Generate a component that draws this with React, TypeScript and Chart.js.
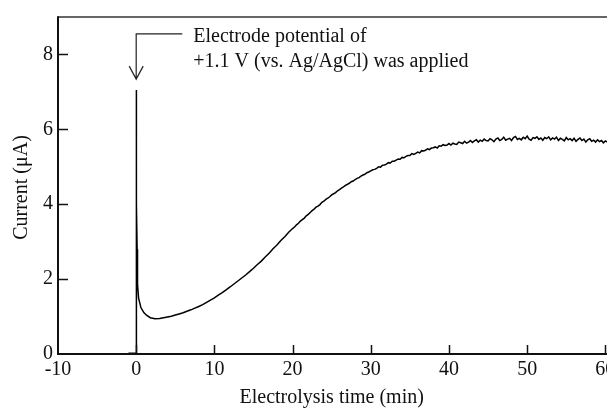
import { useEffect, useRef } from "react";
import { Chart, registerables } from "chart.js";

Chart.register(...registerables);

// Initial spike and decay (min, µA)
const spikeTimes = [-1.0, -0.02, 0, 0, 0.08, 0.12, 0.17, 0.3, 0.6, 1.0, 1.36, 1.8, 2.4];
const spikeCurrent = [0.02, 0.02, 0, 7.05, 4.0, 2.8, 1.87, 1.5, 1.24, 1.1, 1.03, 0.97, 0.94];

// Rise, sampled every 0.5 min from 3 min
const riseStart = 3;
const riseStep = 0.5;
const riseCurrent = [
  0.95, 0.97, 0.99, 1.01, 1.04, 1.07, 1.1, 1.14, 1.18, 1.225, 1.27, 1.32, 1.38, 1.44,
  1.5, 1.57, 1.64, 1.715, 1.79, 1.87, 1.95, 2.03, 2.11, 2.2, 2.29, 2.39, 2.48, 2.59,
  2.69, 2.81, 2.91, 3.03, 3.13, 3.25,
];

// Upper part and plateau, sampled every 0.25 min from 20 min
const plateauStart = 20;
const plateauStep = 0.25;
const plateauCurrent = [
  3.35, 3.39, 3.45, 3.49, 3.55, 3.59, 3.63, 3.69, 3.73, 3.78, 3.83, 3.87, 3.92, 3.95, 3.99, 4.05,
  4.08, 4.13, 4.16, 4.2, 4.25, 4.28, 4.31, 4.36, 4.39, 4.43, 4.46, 4.5, 4.53, 4.56, 4.6, 4.62,
  4.66, 4.69, 4.71, 4.75, 4.78, 4.8, 4.84, 4.86,
  4.89, 4.92, 4.93, 4.96, 5.0, 4.99, 5.04, 5.05, 5.07, 5.11, 5.1, 5.15, 5.15, 5.18, 5.21, 5.2,
  5.25, 5.24, 5.28, 5.3, 5.3, 5.35, 5.33, 5.36, 5.39, 5.37, 5.43, 5.42, 5.44, 5.48, 5.46, 5.5,
  5.51, 5.53, 5.5, 5.56, 5.55, 5.59, 5.57, 5.58, 5.62, 5.58, 5.63, 5.61, 5.6, 5.66, 5.64, 5.62,
  5.68, 5.63, 5.66, 5.7, 5.65, 5.69, 5.72, 5.66, 5.71, 5.68, 5.74, 5.7, 5.69, 5.75, 5.72, 5.67,
  5.74, 5.77, 5.7, 5.73, 5.79, 5.71, 5.74, 5.76, 5.7, 5.78, 5.81, 5.73, 5.76, 5.72, 5.79, 5.75,
  5.82, 5.74, 5.71, 5.78, 5.76, 5.8, 5.73, 5.77, 5.71, 5.78, 5.75, 5.8, 5.72, 5.77, 5.74, 5.79,
  5.7, 5.76, 5.73, 5.69, 5.78, 5.72, 5.75, 5.7, 5.76, 5.68, 5.73, 5.77, 5.7, 5.74, 5.66, 5.72,
  5.75, 5.68, 5.71, 5.66, 5.72, 5.67, 5.7, 5.64, 5.69, 5.66, 5.71, 5.63, 5.67, 5.62, 5.68, 5.64,
  5.62,
];

const xTicks = [-10, 0, 10, 20, 30, 40, 50, 60];
const yTicks = [0, 2, 4, 6, 8];
const xTitle = "Electrolysis time (min)";
const yTitle = "Current (\u03bcA)";
const noteLines = ["Electrode potential of", "+1.1 V (vs. Ag/AgCl) was applied"];

const FONT = "'Liberation Serif', 'Times New Roman', serif";
const INK = "#111";

function buildPoints() {
  const pts: { x: number; y: number }[] = [];
  spikeTimes.forEach((t, i) => pts.push({ x: t, y: spikeCurrent[i] }));
  riseCurrent.forEach((v, i) => pts.push({ x: riseStart + i * riseStep, y: v }));
  plateauCurrent.forEach((v, i) => pts.push({ x: plateauStart + i * plateauStep, y: v }));
  return pts;
}

const framePlugin = {
  id: "frame",
  afterDraw(chart: any) {
    const { ctx, chartArea } = chart;
    const { left, right, top, bottom } = chartArea;
    const xs = chart.scales.x;
    const ys = chart.scales.y;
    ctx.save();
    ctx.lineCap = "butt";
    // top border
    ctx.lineWidth = 1.5;
    ctx.strokeStyle = "#333";
    ctx.beginPath();
    ctx.moveTo(left, top);
    ctx.lineTo(right, top);
    ctx.stroke();
    // axes
    ctx.strokeStyle = INK;
    ctx.lineWidth = 2;
    ctx.beginPath();
    ctx.moveTo(left, top - 0.75);
    ctx.lineTo(left, bottom);
    ctx.lineTo(right, bottom);
    ctx.stroke();
    // inward ticks
    ctx.lineWidth = 1.5;
    ctx.beginPath();
    xTicks.forEach((v) => {
      const px = Math.round(xs.getPixelForValue(v)) + 0.5;
      if (Math.abs(px - left) < 2) return;
      ctx.moveTo(px, bottom);
      ctx.lineTo(px, bottom - 9);
    });
    yTicks.forEach((v) => {
      const py = Math.round(ys.getPixelForValue(v)) + 0.5;
      if (Math.abs(py - bottom) < 2) return;
      ctx.moveTo(left, py);
      ctx.lineTo(left + 10, py);
    });
    ctx.stroke();

    // annotation arrow
    const ax = xs.getPixelForValue(0);
    const lineY = ys.getPixelForValue(8.55);
    const tipY = ys.getPixelForValue(7.34);
    const hx = xs.getPixelForValue(5.9);
    ctx.lineWidth = 1.2;
    ctx.strokeStyle = "#222";
    ctx.beginPath();
    ctx.moveTo(hx, lineY);
    ctx.lineTo(ax, lineY);
    ctx.lineTo(ax, tipY);
    ctx.moveTo(ax - 7, tipY - 13);
    ctx.lineTo(ax, tipY);
    ctx.lineTo(ax + 7, tipY - 13);
    ctx.stroke();

    ctx.fillStyle = "#111";
    ctx.font = `20px ${FONT}`;
    ctx.textAlign = "left";
    ctx.textBaseline = "alphabetic";
    const tx = xs.getPixelForValue(7.3);
    ctx.fillText(noteLines[0], tx, ys.getPixelForValue(8.32));
    ctx.fillText(noteLines[1], tx, ys.getPixelForValue(7.66));

    // axis titles
    ctx.font = `20px ${FONT}`;
    ctx.textAlign = "center";
    const midX = (xs.getPixelForValue(xTicks[0]) + xs.getPixelForValue(xTicks[xTicks.length - 1])) / 2;
    ctx.fillText(xTitle, midX, 403);
    ctx.save();
    ctx.translate(22, (top + bottom) / 2 + 2);
    ctx.rotate(-Math.PI / 2);
    ctx.textBaseline = "middle";
    ctx.fillText(yTitle, 0, 0);
    ctx.restore();
    ctx.restore();
  },
};

export default function App() {
  const ref = useRef<HTMLCanvasElement | null>(null);
  useEffect(() => {
    if (!ref.current) return;
    const chart = new Chart(ref.current, {
      type: "line",
      data: {
        datasets: [
          {
            data: buildPoints(),
            borderColor: "#000",
            borderWidth: 1.5,
            pointRadius: 0,
            tension: 0,
            fill: false,
          },
        ],
      },
      options: {
        responsive: false,
        animation: false,
        devicePixelRatio: 1,
        layout: { padding: { top: 12, left: 0, right: 0, bottom: 0 } },
        plugins: { legend: { display: false }, tooltip: { enabled: false } },
        scales: {
          x: {
            type: "linear",
            min: -10,
            max: 62,
            afterBuildTicks: (s: any) => {
              s.ticks = xTicks.map((v) => ({ value: v }));
            },
            afterFit: (s: any) => {
              s.height = 54;
            },
            grid: { display: false, drawTicks: false },
            border: { display: false },
            ticks: {
              font: { family: FONT, size: 20 },
              color: "#111",
              padding: 4,
              maxRotation: 0,
              autoSkip: false,
            },
          },
          y: {
            type: "linear",
            min: 0,
            max: 9,
            afterBuildTicks: (s: any) => {
              s.ticks = yTicks.map((v) => ({ value: v }));
            },
            afterFit: (s: any) => {
              s.width = 58;
            },
            grid: { display: false, drawTicks: false },
            border: { display: false },
            ticks: {
              font: { family: FONT, size: 20 },
              color: "#111",
              padding: 5,
              autoSkip: false,
            },
          },
        },
      },
      plugins: [framePlugin],
    });
    return () => chart.destroy();
  }, []);
  return (
    <div
      style={{
        position: "fixed",
        left: 0,
        top: 0,
        width: 607,
        height: 408,
        overflow: "hidden",
        background: "#fff",
      }}
    >
      <canvas ref={ref} width={621} height={408} style={{ display: "block", width: 621, height: 408 }} />
    </div>
  );
}
